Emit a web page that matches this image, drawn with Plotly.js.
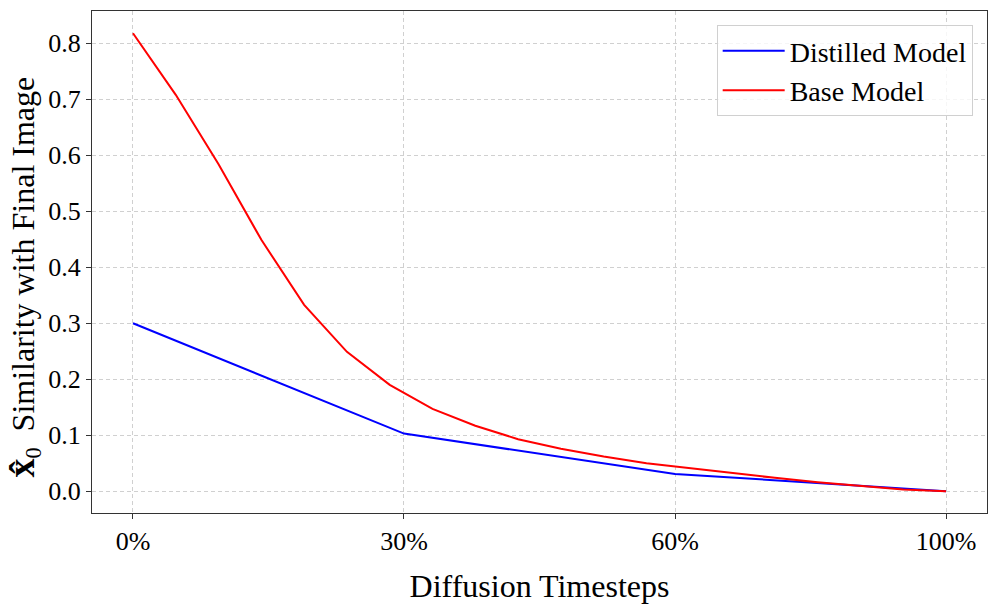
<!DOCTYPE html>
<html>
<head>
<meta charset="utf-8">
<script src="https://cdn.plot.ly/plotly-3.0.1.min.js"></script>
<style>html,body{margin:0;padding:0;background:#fff;}#chart{width:997px;height:604px;}</style>
</head>
<body>
<div id="chart"></div>
<script>
// Distilled model: 4 sampling steps
const distilledSteps = [0, 1, 2, 3];
const distilledValues = [0.300, 0.103, 0.031, 0.000];
// Base model: 20 sampling steps
const baseSteps = [0, 1, 2, 3, 4, 5, 6, 7, 8, 9, 10, 11, 12, 13, 14, 15, 16, 17, 18, 19];
const baseValues = [0.818, 0.708, 0.584, 0.449, 0.333, 0.249, 0.190, 0.147, 0.117, 0.093,
                    0.076, 0.062, 0.050, 0.041, 0.032, 0.024, 0.016, 0.009, 0.003, 0.000];
const tickSteps = [0, 1, 2, 3];
const tickLabels = ['0%', '30%', '60%', '100%'];
const yTicks = [0.0, 0.1, 0.2, 0.3, 0.4, 0.5, 0.6, 0.7, 0.8];

const FONT = 'Liberation Serif, Times New Roman, serif';

const traces = [
  {x: distilledSteps, y: distilledValues, type: 'scatter', mode: 'lines',
   name: 'Distilled Model', line: {color: '#0000ff', width: 2}, xaxis: 'x', yaxis: 'y'},
  {x: baseSteps, y: baseValues, type: 'scatter', mode: 'lines',
   name: 'Base Model', line: {color: '#ff0000', width: 2}, xaxis: 'x2', yaxis: 'y'}
];

const m = 0.0504;
const layout = {
  width: 997, height: 604,
  margin: {l: 92, r: 10, t: 11, b: 91},
  paper_bgcolor: '#ffffff', plot_bgcolor: '#ffffff',
  font: {family: FONT, color: '#000', size: 26},
  showlegend: true,
  legend: {x: 0.984, y: 0.972, xanchor: 'right', yanchor: 'top',
           itemwidth: 62,
           bgcolor: 'rgba(255,255,255,0.8)', bordercolor: '#d0d0d0', borderwidth: 1,
           font: {family: FONT, size: 28, color: '#000'}},
  xaxis: {
    range: [-3 * m, 3 * (1 + m)],
    tickvals: tickSteps, ticktext: tickLabels,
    tickfont: {family: FONT, size: 26},
    ticks: 'outside', ticklen: 5, tickcolor: '#333',
    showline: true, mirror: true, linecolor: '#333', linewidth: 1,
    showgrid: true, gridcolor: '#d0d0d0', griddash: '4px,3px', gridwidth: 1,
    zeroline: false,
    title: {text: 'Diffusion Timesteps', font: {family: FONT, size: 32}, standoff: 19}
  },
  xaxis2: {
    range: [-19 * m, 19 * (1 + m)],
    overlaying: 'x', anchor: 'y', visible: false
  },
  yaxis: {
    range: [-0.0388, 0.8577],
    tickvals: yTicks, tickformat: '.1f',
    tickfont: {family: FONT, size: 26},
    ticks: 'outside', ticklen: 5, tickcolor: '#333',
    showline: true, mirror: true, linecolor: '#333', linewidth: 1,
    showgrid: true, gridcolor: '#d0d0d0', griddash: '4px,3px', gridwidth: 1,
    zeroline: false
  },
  annotations: [{
    text: '<b><span style="font-size:38px">x\u0302</span></b><sub>0</sub>  Similarity with Final Image',
    xref: 'paper', yref: 'paper', x: -0.0765, y: 0.47,
    xanchor: 'center', yanchor: 'middle', textangle: -90, showarrow: false,
    font: {family: FONT, size: 32, color: '#000'}
  }]
};

Plotly.newPlot('chart', traces, layout, {displayModeBar: false, staticPlot: true});
</script>
</body>
</html>
